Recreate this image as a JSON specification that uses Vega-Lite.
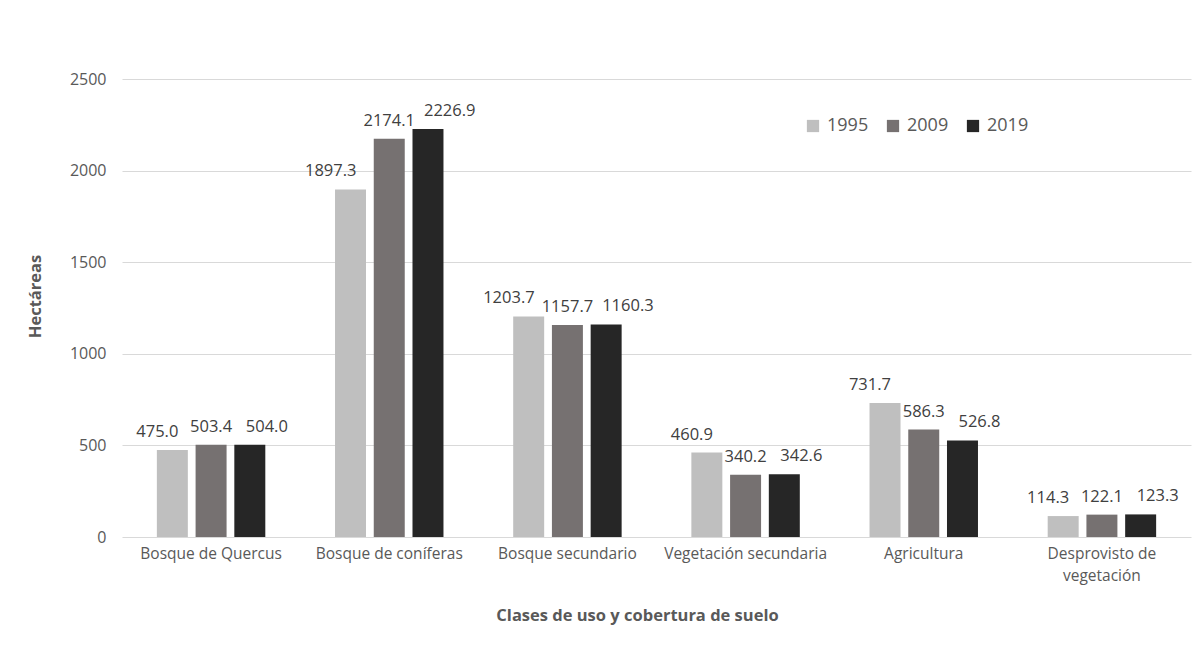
{
  "$schema": "https://vega.github.io/schema/vega-lite/v6.json",
  "width": 1069,
  "height": 458,
  "autosize": {"type": "none"},
  "padding": {"left": 122, "top": 79, "right": 3, "bottom": 108},
  "background": "white",
  "config": {
    "view": {"stroke": null},
    "font": "Open Sans",
    "text": {"font": "Open Sans"}
  },
  "data": {
    "values": [
      {"clase": "Bosque de Quercus", "anio": "1995", "hectareas": 475.0},
      {"clase": "Bosque de Quercus", "anio": "2009", "hectareas": 503.4},
      {"clase": "Bosque de Quercus", "anio": "2019", "hectareas": 504.0},
      {"clase": "Bosque de coníferas", "anio": "1995", "hectareas": 1897.3},
      {"clase": "Bosque de coníferas", "anio": "2009", "hectareas": 2174.1},
      {"clase": "Bosque de coníferas", "anio": "2019", "hectareas": 2226.9},
      {"clase": "Bosque secundario", "anio": "1995", "hectareas": 1203.7},
      {"clase": "Bosque secundario", "anio": "2009", "hectareas": 1157.7},
      {"clase": "Bosque secundario", "anio": "2019", "hectareas": 1160.3},
      {"clase": "Vegetación secundaria", "anio": "1995", "hectareas": 460.9},
      {"clase": "Vegetación secundaria", "anio": "2009", "hectareas": 340.2},
      {"clase": "Vegetación secundaria", "anio": "2019", "hectareas": 342.6},
      {"clase": "Agricultura", "anio": "1995", "hectareas": 731.7},
      {"clase": "Agricultura", "anio": "2009", "hectareas": 586.3},
      {"clase": "Agricultura", "anio": "2019", "hectareas": 526.8},
      {"clase": "Desprovisto de vegetación", "anio": "1995", "hectareas": 114.3},
      {"clase": "Desprovisto de vegetación", "anio": "2009", "hectareas": 122.1},
      {"clase": "Desprovisto de vegetación", "anio": "2019", "hectareas": 123.3}
    ]
  },
  "encoding": {
    "x": {
      "field": "clase",
      "type": "nominal",
      "sort": null,
      "scale": {"paddingInner": 0, "paddingOuter": 0},
      "axis": {
        "title": "Clases de uso y cobertura de suelo",
        "titleFont": "Open Sans",
        "titleFontSize": 16.5,
        "titleFontWeight": "bold",
        "titleColor": "#595959",
        "titleAnchor": "start",
        "titleAlign": "center",
        "titleBaseline": "middle",
        "titleX": 515,
        "titleY": 78,
        "labelAngle": 0,
        "labelFont": "Open Sans",
        "labelFontSize": 15.5,
        "labelColor": "#595959",
        "labelPadding": 9,
        "labelLineHeight": 22,
        "labelExpr": "datum.label == 'Desprovisto de vegetación' ? ['Desprovisto de', 'vegetación'] : datum.label",
        "domain": false,
        "ticks": false
      }
    },
    "xOffset": {
      "field": "anio",
      "type": "nominal",
      "scale": {"paddingInner": 0.2, "paddingOuter": 0.9}
    },
    "y": {
      "field": "hectareas",
      "type": "quantitative",
      "scale": {"domain": [0, 2500], "nice": false},
      "axis": {
        "title": "Hectáreas",
        "titleFont": "Open Sans",
        "titleFontSize": 16.5,
        "titleFontWeight": "bold",
        "titleColor": "#595959",
        "titleAlign": "center",
        "titleBaseline": "middle",
        "titleX": -87,
        "titleY": 217,
        "values": [0, 500, 1000, 1500, 2000, 2500],
        "format": "d",
        "labelFont": "Open Sans",
        "labelFontSize": 16,
        "labelColor": "#595959",
        "labelPadding": 16,
        "grid": true,
        "gridColor": "#d9d9d9",
        "gridWidth": 1,
        "domain": false,
        "ticks": false
      }
    }
  },
  "layer": [
    {
      "mark": {"type": "bar"},
      "encoding": {
        "color": {
          "field": "anio",
          "type": "nominal",
          "scale": {
            "domain": ["1995", "2009", "2019"],
            "range": ["#bfbfbf", "#767171", "#262626"]
          },
          "legend": {
            "title": null,
            "orient": "none",
            "legendX": 682,
            "legendY": 38,
            "direction": "horizontal",
            "symbolType": "square",
            "symbolSize": 150,
            "symbolStrokeWidth": 0,
            "labelFont": "Open Sans",
            "labelFontSize": 18,
            "labelColor": "#595959",
            "labelOffset": 5,
            "columnPadding": 15
          }
        }
      }
    },
    {
      "transform": [{"filter": "datum.anio == '1995'"}],
      "mark": {"type": "text", "align": "right", "dx": 6, "dy": -18, "baseline": "middle", "fontSize": 16.5, "color": "#404040"},
      "encoding": {"text": {"field": "hectareas", "type": "quantitative", "format": ".1f"}}
    },
    {
      "transform": [{"filter": "datum.anio == '2009'"}],
      "mark": {"type": "text", "dx": 0, "dy": -18, "baseline": "middle", "fontSize": 16.5, "color": "#404040"},
      "encoding": {"text": {"field": "hectareas", "type": "quantitative", "format": ".1f"}}
    },
    {
      "transform": [{"filter": "datum.anio == '2019'"}],
      "mark": {"type": "text", "align": "left", "dx": -4, "dy": -18, "baseline": "middle", "fontSize": 16.5, "color": "#404040"},
      "encoding": {"text": {"field": "hectareas", "type": "quantitative", "format": ".1f"}}
    }
  ]
}
